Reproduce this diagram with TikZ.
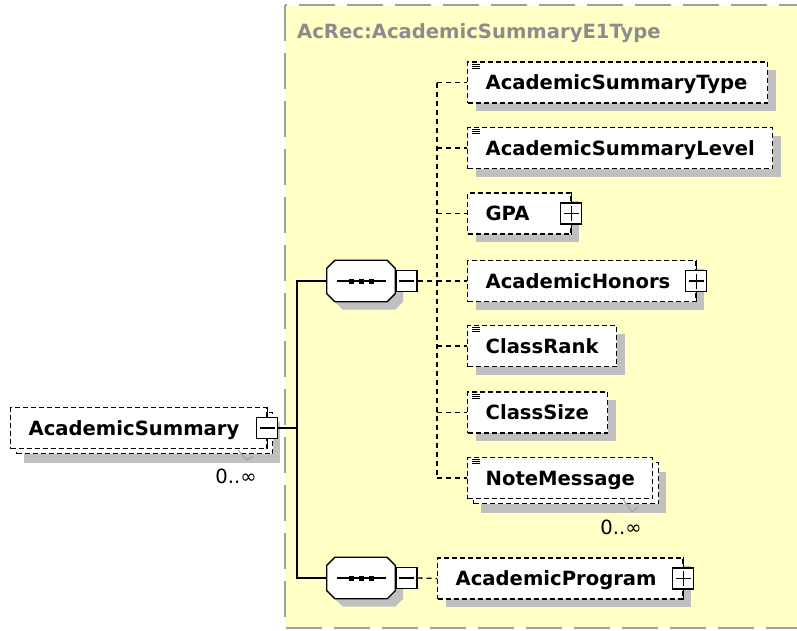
\documentclass[tikz,border=0pt]{standalone}
\usepackage{fontspec}
\setmainfont{DejaVu Sans}
\usetikzlibrary{shadows, positioning}
\definecolor{typefill}{HTML}{FFFFC6}
\definecolor{typeedge}{HTML}{A0A0A0}
\definecolor{typename}{HTML}{8C8C8C}
\definecolor{shade}{HTML}{C0C0C0}
\definecolor{occline}{HTML}{A0A0A0}
\newcommand{\elemfont}{\fontsize{19.6}{23}\selectfont\bfseries}
\newcommand{\occfont}{\fontsize{19.6}{23}\selectfont}
\newcommand{\txtmark}[1]{%
	\foreach \k in {3,5,7}
		\draw [line width=0.9pt] ([shift={(5,\k)}]#1.north west) -- ++(8,0);
}
% octagon round a sequence node: #1 node, #2 offset, #3 options
\newcommand{\octagon}[3]{%
	\path [#3] ([shift={(8+#2,#2)}]#1.north west) -- ([shift={(-8+#2,#2)}]#1.north east)
		-- ([shift={(#2,8+#2)}]#1.north east) -- ([shift={(#2,-8+#2)}]#1.south east)
		-- ([shift={(-8+#2,#2)}]#1.south east) -- ([shift={(8+#2,#2)}]#1.south west)
		-- ([shift={(#2,-8+#2)}]#1.south west) -- ([shift={(#2,8+#2)}]#1.north west) -- cycle;
}
\newcommand{\seqshape}[1]{%
	\octagon{#1}{8}{fill=shade}
	\octagon{#1}{0}{fill=white, draw, line width=1.3pt}
	\draw [line width=1.3pt] ([xshift=-24pt]#1.center) -- ([xshift=25pt]#1.center);
	\foreach \d in {-10,0,10}
		\fill [black] ([xshift=\d pt]#1.center) +(-2.5pt,-2.5pt) rectangle +(2.5pt,2.5pt);
}
\tikzset{
	elembox/.style={
		draw,
		dash pattern=on 5pt off 3pt,
		line width=1.3pt,
		fill=white,
		anchor=west,
		minimum height=41pt,
		inner xsep=18pt,
		inner ysep=0pt,
		text height=15pt,
		text depth=1pt,
		align=left,
		font=\elemfont
	},
	elem/.style={
		elembox,
		drop shadow={shadow xshift=8pt, shadow yshift=-8pt, fill=shade, opacity=1}
	},
	multi/.style={
		elembox,
		drop shadow={shadow xshift=13pt, shadow yshift=-14pt, fill=shade, opacity=1},
		preaction={draw, fill=white, line width=1.3pt, dash pattern=on 5pt off 3pt,
			transform canvas={shift={(6pt,-5pt)}}}
	},
	seqnode/.style={
		minimum width=68pt,
		minimum height=41pt,
		inner sep=0pt
	},
	btn/.style={
		draw,
		solid,
		line width=1.3pt,
		fill=white,
		minimum size=21pt,
		inner sep=0pt
	},
	minusbtn/.style={
		btn,
		path picture={
			\draw [line width=1.3pt] ([xshift=3pt]path picture bounding box.west) -- ([xshift=-3pt]path picture bounding box.east);
		}
	},
	plusbtn/.style={
		btn,
		path picture={
			\draw [line width=1.3pt] ([xshift=3pt]path picture bounding box.west) -- ([xshift=-3pt]path picture bounding box.east);
			\draw [line width=1.3pt] ([yshift=3pt]path picture bounding box.south) -- ([yshift=-3pt]path picture bounding box.north);
		}
	},
	link/.style={line width=1.5pt},
	dlink/.style={line width=1.3pt, dash pattern=on 5pt off 4pt},
	occ/.style={font=\occfont, inner sep=0pt},
	occtick/.style={occline, line width=1pt},
	typebox/.style={fill=typefill, draw=typeedge, line width=2pt, dash pattern=on 36pt off 12pt},
	typetitle/.style={font=\elemfont, text=typename, inner sep=0pt, anchor=west}
}

\begin{document}
\begin{tikzpicture}[x=1pt, y=-1pt]
	\useasboundingbox (0,0) rectangle (797,630);
	\clip (0,0) rectangle (797,630);
	\draw [typebox] (285,5) rectangle (815,628);
	\node [typetitle] (ttl) at (297,33) {AcRec:AcademicSummaryE1Type};
	
	% root element
	\node [multi, text width=220pt] (acsum) at (10,428) {AcademicSummary};
	\node [minusbtn] (acsum-b) at (acsum.east) {};
	\node [occ] (acsum-occ) at (236,476) {0..∞};
	\draw [occtick] (acsum-occ.center) ++(2,-26) -- ++(9,10) -- ++(6,-4);
	
	% sequences
	\node [seqnode] (seq1) at (361,281) {};
	\node [seqnode] (seq2) at (361,578) {};
	\seqshape{seq1}
	\seqshape{seq2}
	\node [minusbtn, anchor=west] (seq1-b) at (seq1.east) {};
	\node [minusbtn, anchor=west] (seq2-b) at (seq2.east) {};
	\coordinate (trunk) at (297,0);
	\draw [link] (acsum-b.east) -- (acsum-b.east -| trunk) |- (seq1.west);
	\draw [link] (acsum-b.east -| trunk) |- (seq2.west);
	
	% children
	\node [elem, text width=264pt] (styp) at (467,82.5) {AcademicSummaryType};
	\node [elem, text width=269pt] (slvl) at (467,148) {AcademicSummaryLevel};
	\node [elem, text width=67pt] (gpa) at (467,213.5) {GPA};
	\node [elem, text width=192pt] (hon) at (467,281) {AcademicHonors};
	\node [elem, text width=113pt] (rank) at (467,346) {ClassRank};
	\node [elem, text width=104pt] (size) at (467,412.5) {ClassSize};
	\node [multi, text width=149pt] (note) at (467,478) {NoteMessage};
	\node [elem, text width=209pt] (prog) at (437,578.5) {AcademicProgram};
	\node [occ] (note-occ) at (621,527) {0..∞};
	\draw [occtick] (note-occ.center) ++(2,-28) -- ++(9,13) -- ++(6,-5);
	
	\foreach \n in {gpa, hon, prog}
		\node [plusbtn] (\n-b) at (\n.east) {};
	\foreach \n in {acsum, gpa, hon, prog} {
		\draw [line width=1.3pt] (\n-b.north) -- (\n-b.north |- \n.north);
		\draw [line width=1.3pt] (\n-b.south) -- (\n-b.south |- \n.south);
	}
	\foreach \n in {styp, slvl, rank, size, note} {
		\txtmark{\n}
	}
	
	\coordinate (rail) at (437,0);
	\draw [dlink] (styp.west -| rail) -- (note.west -| rail);
	\foreach \n in {styp, slvl, gpa, hon, rank, size, note}
		\draw [dlink] (\n.west -| rail) -- (\n.west);
	\draw [dlink] (seq1-b.east) -- (hon.west -| rail);
	\draw [dlink] (seq2-b.east) -- (prog.west);
\end{tikzpicture}
\end{document}
